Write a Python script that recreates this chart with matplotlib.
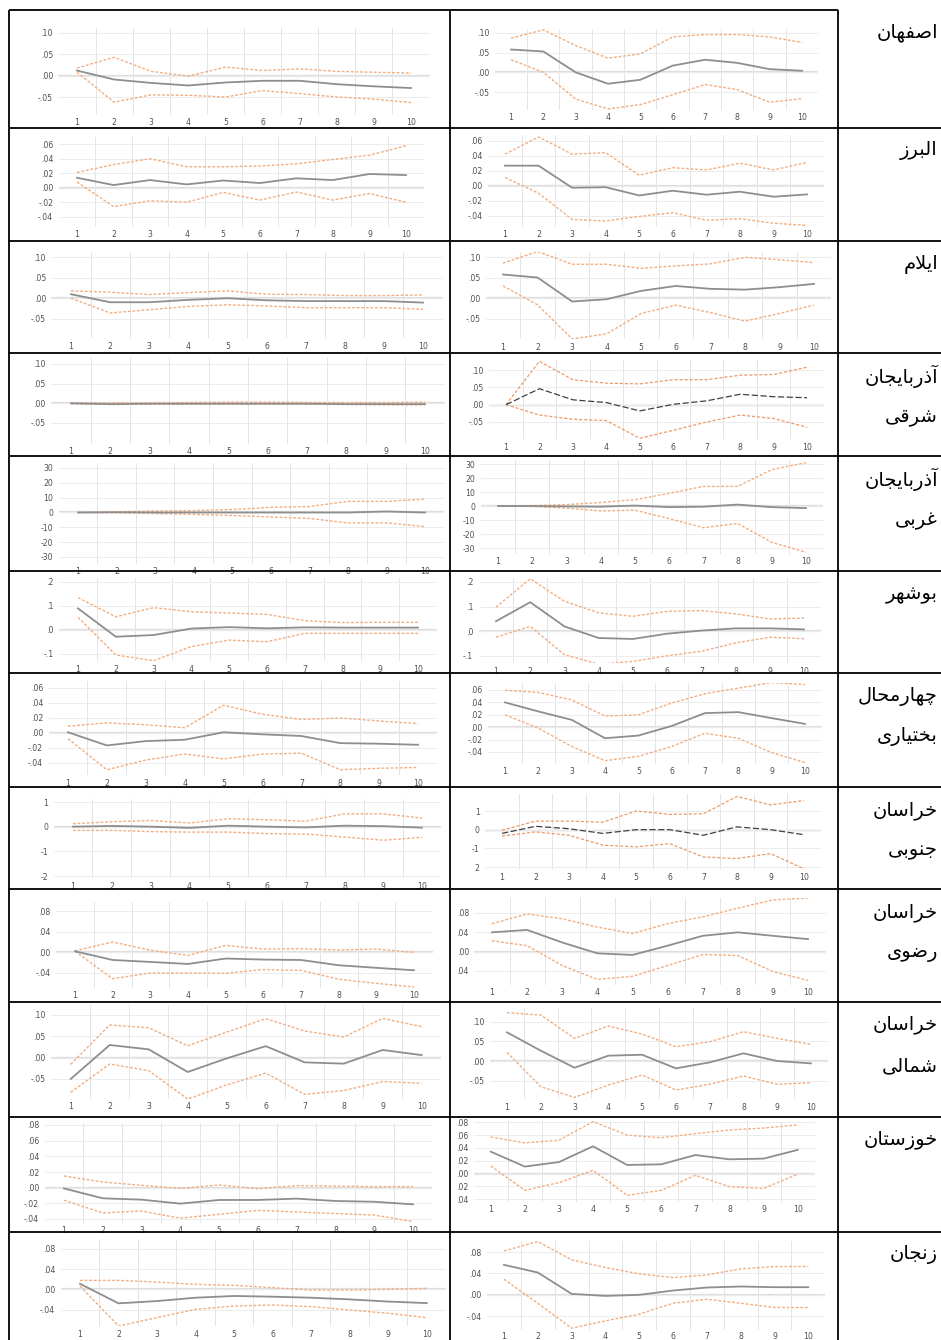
import numpy as np
import matplotlib
matplotlib.use("Agg")
import matplotlib.pyplot as plt

W, H = 941, 1340

# ---------------- data ----------------
periods = [1, 2, 3, 4, 5, 6, 7, 8, 9, 10]

provinces = ['اصفهان', 'البرز', 'ایلام', 'آذربایجان شرقی', 'آذربایجان غربی', 'بوشهر',
             'چهارمحال بختیاری', 'خراسان جنوبی', 'خراسان رضوی', 'خراسان شمالی',
             'خوزستان', 'زنجان']

# tick values / labels
ticks_a = [.10, .05, .00, -.05]
labels_a = ['.10', '.05', '.00', '-.05']
ticks_b = [.06, .04, .02, .00, -.02, -.04]
labels_b = ['.06', '.04', '.02', '.00', '-.02', '-.04']
ticks_c = [30, 20, 10, 0, -10, -20, -30]
labels_c = ['30', '20', '10', '0', '-10', '-20', '-30']
ticks_d = [.2, .1, .0, -.1]
labels_d = ['.2', '.1', '.0', '-.1']
ticks_e = [1, 0, -1, -2]
labels_e = ['1', '0', '-1', '-2']
labels_e2 = ['1', '0', '-1', '2']
ticks_f = [.08, .04, .00, -.04]
labels_f = ['.08', '.04', '.00', '-.04']
labels_f2 = ['.08', '.04', '.00', '.04']
ticks_g = [.08, .06, .04, .02, .00, -.02, -.04]
labels_g = ['.08', '.06', '.04', '.02', '.00', '-.02', '-.04']
labels_g2 = ['.08', '.06', '.04', '.02', '.00', '.02', '.04']

# اصفهان
isf_l_mid = [.012, -.009, -.017, -.023, -.016, -.012, -.012, -.020, -.025, -.029]
isf_l_up = [.018, .043, .010, -.001, .020, .012, .016, .010, .008, .006]
isf_l_lo = [.008, -.062, -.045, -.046, -.050, -.035, -.042, -.050, -.055, -.063]
isf_r_mid = [.058, .053, .000, -.029, -.019, .017, .032, .024, .008, .004]
isf_r_up = [.087, .108, .068, .036, .047, .090, .096, .096, .090, .076]
isf_r_lo = [.032, .000, -.068, -.093, -.082, -.057, -.031, -.044, -.076, -.067]
# البرز
alb_l_mid = [.0138, .0037, .0106, .0046, .010, .0065, .013, .0106, .019, .0175]
alb_l_up = [.021, .032, .040, .029, .029, .030, .033, .039, .045, .058]
alb_l_lo = [.008, -.026, -.018, -.020, -.0065, -.017, -.006, -.017, -.008, -.020]
alb_r_mid = [.0267, .0267, -.0027, -.002, -.013, -.0067, -.012, -.008, -.0147, -.0116]
alb_r_up = [.042, .065, .042, .044, .014, .024, .021, .030, .021, .031]
alb_r_lo = [.011, -.010, -.045, -.047, -.041, -.036, -.046, -.044, -.050, -.053]
# ایلام
ilm_l_mid = [.0098, -.0098, -.0098, -.004, .000, -.005, -.007, -.007, -.007, -.0106]
ilm_l_up = [.018, .0147, .009, .0139, .018, .0098, .009, .0065, .0065, .008]
ilm_l_lo = [.000, -.036, -.028, -.020, -.016, -.019, -.023, -.023, -.023, -.027]
ilm_r_mid = [.058, .0506, -.008, -.0025, .018, .030, .023, .021, .027, .035]
ilm_r_up = [.0857, .114, .083, .083, .073, .079, .084, .100, .094, .087]
ilm_r_lo = [.030, -.016, -.0995, -.087, -.037, -.017, -.035, -.056, -.037, -.017]
# آذربایجان شرقی
azs_l_mid = [0, -.002, -.001, -.001, -.001, -.001, -.001, -.002, -.002, -.002]
azs_l_up = [.001, .001, .001, .002, .003, .003, .002, .002, .002, .003]
azs_l_lo = [-.001, -.003, -.002, -.002, -.002, -.002, -.002, -.003, -.004, -.004]
azs_r_mid = [.000, .046, .014, .006, -.018, .001, .011, .030, .023, .020]
azs_r_up = [.000, .125, .072, .062, .060, .072, .072, .085, .087, .108]
azs_r_lo = [.000, -.030, -.042, -.046, -.097, -.074, -.050, -.030, -.040, -.065]
# آذربایجان غربی
azg_l_mid = [0, .2, 0, 0, 0, 0, 0, 0, .7, 0]
azg_l_up = [0, .5, 1, 1.3, 2, 3.5, 4, 7.5, 7.5, 9]
azg_l_lo = [0, -.2, -.7, -1.3, -2, -3, -4, -7, -7, -9.5]
azg_r_mid = [0, 0, -.3, -.5, .3, -.8, -.5, 1, -.8, -1.5]
azg_r_up = [0, .3, 1, 2.5, 4.5, 9, 14, 14, 26, 31]
azg_r_lo = [0, -.3, -1.5, -3.5, -3, -9, -15.5, -12.5, -26, -33]
# بوشهر
bsh_l_mid = [.090, -.028, -.021, .006, .012, .007, .011, .010, .010, .010]
bsh_l_up = [.135, .055, .093, .076, .071, .065, .039, .031, .032, .032]
bsh_l_lo = [.053, -.104, -.128, -.069, -.042, -.049, -.014, -.014, -.014, -.014]
bsh_r_mid = [.041, .118, .020, -.027, -.031, -.0095, .003, .012, .012, .008]
bsh_r_up = [.098, .213, .122, .075, .061, .081, .084, .071, .050, .054]
bsh_r_lo = [-.024, .020, -.095, -.133, -.122, -.099, -.081, -.047, -.024, -.030]
# چهارمحال بختیاری
chb_l_mid = [.001, -.0166, -.0108, -.009, .001, -.0018, -.004, -.0135, -.0143, -.0157]
chb_l_up = [.009, .0135, .011, .007, .037, .025, .018, .020, .016, .0125]
chb_l_lo = [-.0076, -.049, -.036, -.028, -.0345, -.028, -.027, -.049, -.047, -.046]
chb_r_mid = [.040, .0254, .0119, -.0178, -.0135, .002, .0227, .0243, .0146, .0054]
chb_r_up = [.0595, .056, .044, .018, .020, .039, .054, .063, .072, .0686]
chb_r_lo = [.020, -.0016, -.031, -.054, -.047, -.031, -.0097, -.018, -.041, -.057]
# خراسان جنوبی
khj_l_mid = [0, .03, 0, -.05, .04, 0, -.03, .04, .02, -.04]
khj_l_up = [.12, .2, .25, .15, .32, .28, .22, .52, .52, .35]
khj_l_lo = [-.15, -.15, -.2, -.22, -.22, -.28, -.3, -.42, -.55, -.43]
khj_r_mid = [-.2, .18, .05, -.2, 0, 0, -.3, .15, 0, -.27]
khj_r_up = [-.03, .46, .46, .4, 1.0, .82, .85, 1.78, 1.33, 1.56]
khj_r_lo = [-.34, -.12, -.3, -.83, -.92, -.75, -1.46, -1.55, -1.28, -2.1]
# خراسان رضوی
khr_l_mid = [.002, -.0148, -.0186, -.0225, -.012, -.014, -.0148, -.025, -.030, -.0347]
khr_l_up = [.003, .020, .004, -.006, .0135, .0064, .007, .0045, .0064, .000]
khr_l_lo = [.002, -.051, -.040, -.040, -.0405, -.0334, -.035, -.052, -.060, -.067]
khr_r_mid = [.040, .045, .019, -.0034, -.0068, .0123, .0328, .040, .0328, .026]
khr_r_up = [.058, .078, .068, .051, .0376, .058, .072, .090, .107, .111]
khr_r_lo = [.0226, .0123, -.0287, -.0574, -.051, -.0287, -.006, -.008, -.041, -.0595]
# خراسان شمالی
khs_l_mid = [-.050, .0297, .0195, -.0336, -.0016, .027, -.011, -.014, .018, .006]
khs_l_up = [-.0156, .0766, .070, .028, .060, .0914, .0625, .0484, .092, .0727]
khs_l_lo = [-.081, -.0148, -.0305, -.097, -.064, -.036, -.086, -.077, -.056, -.060]
khs_r_mid = [.0729, .0263, -.017, .0136, .016, -.0186, -.0034, .0195, .000, -.006]
khs_r_up = [.1229, .117, .0576, .089, .0686, .0364, .049, .0746, .0576, .042]
khs_r_lo = [.022, -.0653, -.0924, -.061, -.0356, -.0737, -.059, -.038, -.059, -.0551]
# خوزستان
khz_l_mid = [-.001, -.0136, -.0153, -.0204, -.0157, -.0157, -.014, -.017, -.018, -.0213]
khz_l_up = [.0149, .0072, .003, -.001, .0034, -.0013, .0026, .002, .0013, .0013]
khz_l_lo = [-.016, -.0323, -.0298, -.039, -.034, -.029, -.031, -.033, -.035, -.0434]
khz_r_mid = [.0343, .011, .018, .0426, .0135, .0145, .029, .0223, .0234, .037]
khz_r_up = [.057, .048, .052, .081, .060, .056, .0623, .068, .071, .076]
khz_r_lo = [.012, -.026, -.014, .0052, -.0338, -.026, -.0026, -.0203, -.023, -.0009]
# زنجان
znj_l_mid = [.011, -.0275, -.023, -.0164, -.013, -.0144, -.0164, -.0197, -.024, -.027]
znj_l_up = [.0177, .0177, .0144, .0098, .0079, .0033, -.0013, -.0013, .000, .002]
znj_l_lo = [.0066, -.072, -.0557, -.0393, -.0328, -.0308, -.034, -.0406, -.047, -.0557]
znj_r_mid = [.056, .0417, .0019, -.0019, .000, .0081, .0137, .0156, .0143, .0143]
znj_r_up = [.082, .0995, .0653, .051, .0392, .0323, .0373, .0485, .0529, .0529]
znj_r_lo = [.0292, -.0156, -.0622, -.0485, -.036, -.0156, -.0081, -.0156, -.0236, -.0236]

series = [
    (isf_l_mid, isf_l_up, isf_l_lo, isf_r_mid, isf_r_up, isf_r_lo),
    (alb_l_mid, alb_l_up, alb_l_lo, alb_r_mid, alb_r_up, alb_r_lo),
    (ilm_l_mid, ilm_l_up, ilm_l_lo, ilm_r_mid, ilm_r_up, ilm_r_lo),
    (azs_l_mid, azs_l_up, azs_l_lo, azs_r_mid, azs_r_up, azs_r_lo),
    (azg_l_mid, azg_l_up, azg_l_lo, azg_r_mid, azg_r_up, azg_r_lo),
    (bsh_l_mid, bsh_l_up, bsh_l_lo, bsh_r_mid, bsh_r_up, bsh_r_lo),
    (chb_l_mid, chb_l_up, chb_l_lo, chb_r_mid, chb_r_up, chb_r_lo),
    (khj_l_mid, khj_l_up, khj_l_lo, khj_r_mid, khj_r_up, khj_r_lo),
    (khr_l_mid, khr_l_up, khr_l_lo, khr_r_mid, khr_r_up, khr_r_lo),
    (khs_l_mid, khs_l_up, khs_l_lo, khs_r_mid, khs_r_up, khs_r_lo),
    (khz_l_mid, khz_l_up, khz_l_lo, khz_r_mid, khz_r_up, khz_r_lo),
    (znj_l_mid, znj_l_up, znj_l_lo, znj_r_mid, znj_r_up, znj_r_lo),
]

# ---------------- layout (pixel positions) ----------------
# (x of period 1, x of period 10, tickA value, tickA px, tickB value, tickB px,
#  ylo, yhi, ticks, labels, style, x-label pad)
layout = [
    [(77, 411, .10, 33, -.05, 97, -.092, .112, ticks_a, labels_a, 0, 2.5),
     (511, 802, .10, 33, -.05, 92, -.095, .11, ticks_a, labels_a, 0, 2.5)],
    [(77, 406, .06, 144.3, -.04, 216.7, -.054, .0706, ticks_b, labels_b, 0, 2.5),
     (505, 807, .06, 140.7, -.04, 215.7, -.055, .0676, ticks_b, labels_b, 0, 2.5)],
    [(71, 423, .10, 257.3, -.05, 318.7, -.098, .114, ticks_a, labels_a, 0, 2.5),
     (503, 814, .10, 257.3, -.05, 318.7, -.10, .114, ticks_a, labels_a, 0, 2.5)],
    [(71, 425, .10, 364, -.05, 423, -.103, .118, ticks_a, labels_a, 0, 2.5),
     (506, 807, .10, 370, -.05, 422, -.10, .129, ticks_a, labels_a, 1, 2.5)],
    [(78, 425, 30, 468, -30, 557, -34.5, 33.4, ticks_c, labels_c, 0, 2.5),
     (498, 806, 30, 464, -30, 548, -34, 33, ticks_c, labels_c, 0, 2.5)],
    [(78, 418, .2, 582, -.1, 654, -.13, .217, ticks_d, labels_d, 0, 2.5),
     (496, 804, .2, 582, -.1, 656, -.13, .216, ticks_d, labels_d, 0, 2.5)],
    [(68, 418, .06, 688, -.04, 763, -.0566, .069, ticks_b, labels_b, 0, 2.5),
     (505, 805, .06, 690, -.04, 752, -.059, .071, ticks_b, labels_b, 0, 2.5)],
    [(73, 422, 1, 802, -2, 876, -2.1, 1.135, ticks_e, labels_e, 0, 2.5),
     (502, 804, 1, 811, -2, 867, -2.14, 1.9, ticks_e, labels_e2, 1, 2.5)],
    [(75, 414, .08, 911, -.04, 973, -.069, .098, ticks_f, labels_f, 0, 2.5),
     (492, 808, .08, 913, -.04, 971, -.069, .111, ticks_f, labels_f2, 0, 2.5)],
    [(70.7, 421.7, .10, 1015, -.05, 1079, -.096, .123, ticks_a, labels_a, 0, 2.5),
     (507, 811, .10, 1021.7, -.05, 1080.7, -.097, .134, ticks_a, labels_a, 0, 2.5)],
    [(64, 413, .08, 1125, -.04, 1219, -.045, .083, ticks_g, labels_g, 0, 2.5),
     (490.7, 797.7, .08, 1122.3, -.04, 1199.3, -.0436, .082, ticks_g, labels_g2, 0, 2.5)],
    [(80, 426.7, .08, 1248.7, -.04, 1309.7, -.0728, .0977, ticks_f, labels_f, 0, 2.5),
     (504, 808.3, .08, 1252, -.04, 1316.3, -.066, .0999, ticks_f, labels_f, 0, 1.2)],
]

row_lines = [128, 241, 353, 456, 571, 673, 787, 889, 1002, 1117, 1232]
row_tops = [10] + row_lines

# ---------------- Persian shaping (manual, matplotlib has no shaping) ----------------
FORMS = {
    '\u0627': ('\uFE8D', '\uFE8E'), '\u0622': ('\uFE81', '\uFE82'),
    '\u0628': ('\uFE8F', '\uFE90', '\uFE91', '\uFE92'),
    '\u062A': ('\uFE95', '\uFE96', '\uFE97', '\uFE98'),
    '\u062C': ('\uFE9D', '\uFE9E', '\uFE9F', '\uFEA0'),
    '\u062D': ('\uFEA1', '\uFEA2', '\uFEA3', '\uFEA4'),
    '\u062E': ('\uFEA5', '\uFEA6', '\uFEA7', '\uFEA8'),
    '\u0630': ('\uFEAB', '\uFEAC'), '\u0631': ('\uFEAD', '\uFEAE'),
    '\u0632': ('\uFEAF', '\uFEB0'),
    '\u0633': ('\uFEB1', '\uFEB2', '\uFEB3', '\uFEB4'),
    '\u0634': ('\uFEB5', '\uFEB6', '\uFEB7', '\uFEB8'),
    '\u0635': ('\uFEB9', '\uFEBA', '\uFEBB', '\uFEBC'),
    '\u0636': ('\uFEBD', '\uFEBE', '\uFEBF', '\uFEC0'),
    '\u063A': ('\uFECD', '\uFECE', '\uFECF', '\uFED0'),
    '\u0641': ('\uFED1', '\uFED2', '\uFED3', '\uFED4'),
    '\u0642': ('\uFED5', '\uFED6', '\uFED7', '\uFED8'),
    '\u0644': ('\uFEDD', '\uFEDE', '\uFEDF', '\uFEE0'),
    '\u0645': ('\uFEE1', '\uFEE2', '\uFEE3', '\uFEE4'),
    '\u0646': ('\uFEE5', '\uFEE6', '\uFEE7', '\uFEE8'),
    '\u0647': ('\uFEE9', '\uFEEA', '\uFEEB', '\uFEEC'),
    '\u0648': ('\uFEED', '\uFEEE'),
    '\u06CC': ('\uFEEF', '\uFEF0', '\uFEF3', '\uFEF4'),
    '\u0686': ('\uFB7A', '\uFB7B', '\uFB7C', '\uFB7D'),
}
LAMALEF = {'\u0627': ('\uFEFB', '\uFEFC'), '\u0622': ('\uFEF5', '\uFEF6')}


def shape(word):
    out = []
    n = len(word)
    i = 0
    while i < n:
        c = word[i]
        prev = word[i - 1] if i > 0 else None
        pc = prev is not None and prev in FORMS and len(FORMS[prev]) == 4
        if c == '\u0644' and i + 1 < n and word[i + 1] in LAMALEF:
            lig = LAMALEF[word[i + 1]]
            out.append(lig[1] if pc else lig[0])
            i += 2
            continue
        if c not in FORMS:
            out.append(c)
            i += 1
            continue
        f = FORMS[c]
        nxt = word[i + 1] if i + 1 < n else None
        nc = len(f) == 4 and nxt is not None and nxt in FORMS
        if len(f) == 2:
            out.append(f[1] if pc else f[0])
        else:
            if pc and nc:
                out.append(f[3])
            elif pc:
                out.append(f[1])
            elif nc:
                out.append(f[2])
            else:
                out.append(f[0])
        i += 1
    return ''.join(out)[::-1]


# ---------------- drawing ----------------
fig = plt.figure(figsize=(W / 100, H / 100), dpi=100)
fig.patch.set_facecolor('white')

MID = '#8e8e8e'
BAND = '#f2ad80'
GRID = '#e4e4e4'


def draw_chart(spec, mid, up, lo):
    x1, x10, vA, pA, vB, pB, ylo, yhi, ticks, labels, style, xpad = spec
    s = (x10 - x1) / 9.0
    left = x1 - 0.5 * s
    right = x10 + 0.5 * s
    k = (pB - pA) / (vA - vB)
    top = pA - (yhi - vA) * k
    bottom = pA + (vA - ylo) * k
    ax = fig.add_axes([left / W, 1 - bottom / H, (right - left) / W, (bottom - top) / H])
    ax.set_xlim(0.5, 10.5)
    ax.set_ylim(ylo, yhi)
    for sp in ax.spines.values():
        sp.set_visible(False)
    ax.patch.set_alpha(0)
    ax.set_xticks(periods)
    ax.set_xticklabels([str(p) for p in periods])
    ax.set_xticks(np.arange(1.5, 11.0, 1.0), minor=True)
    ax.set_yticks(ticks)
    ax.set_yticklabels(labels)
    ax.tick_params(which='both', length=0, labelsize=5.6, colors='#505050')
    ax.tick_params(axis='x', pad=xpad)
    ax.tick_params(axis='y', pad=4)
    ax.grid(which='minor', axis='x', color=GRID, lw=0.7, zorder=0)
    ax.grid(which='major', axis='y', color='#ececec', lw=0.7, zorder=0)
    ax.grid(which='major', axis='x', visible=False)
    if style == 1:
        ax.axhline(0, color='#a0a0a0', lw=0.9, zorder=1)
        ax.plot(periods, up, color='#ec9a68', lw=0.9, ls=(0, (2.5, 1.5)), zorder=2)
        ax.plot(periods, lo, color='#ec9a68', lw=0.9, ls=(0, (2.5, 1.5)), zorder=2)
        ax.plot(periods, mid, color='#404040', lw=0.9, ls=(0, (5, 2)), zorder=3)
    else:
        ax.axhline(0, color='#dedede', lw=1.6, zorder=1)
        ax.plot(periods, up, color=BAND, lw=1.0, ls=(0, (2, 1.3)), zorder=2)
        ax.plot(periods, lo, color=BAND, lw=1.0, ls=(0, (2, 1.3)), zorder=2)
        ax.plot(periods, mid, color=MID, lw=1.3, zorder=3)
    return ax


for r, (specs, data) in enumerate(zip(layout, series)):
    draw_chart(specs[0], data[0], data[1], data[2])
    draw_chart(specs[1], data[3], data[4], data[5])

# overlay for the table frame and row labels
ov = fig.add_axes([0, 0, 1, 1], zorder=10)
ov.set_xlim(0, W)
ov.set_ylim(H, 0)
ov.axis('off')
ov.patch.set_alpha(0)

LW = 1.3
ov.plot([9, 838], [10, 10], color='black', lw=LW, solid_capstyle='butt')
for xv in (9, 450, 838):
    ov.plot([xv, xv], [10, H], color='black', lw=LW, solid_capstyle='butt')
for yv in row_lines:
    ov.plot([9, W], [yv, yv], color='black', lw=LW, solid_capstyle='butt')

for name, rt in zip(provinces, row_tops):
    words = name.split(' ')
    for j, wd in enumerate(words):
        ov.text(938, rt + 23 + 41 * j, shape(wd), ha='right', va='center',
                fontsize=14, family=['DejaVu Sans'], color='black')

fig.savefig('out.png', dpi=100, facecolor='white')
